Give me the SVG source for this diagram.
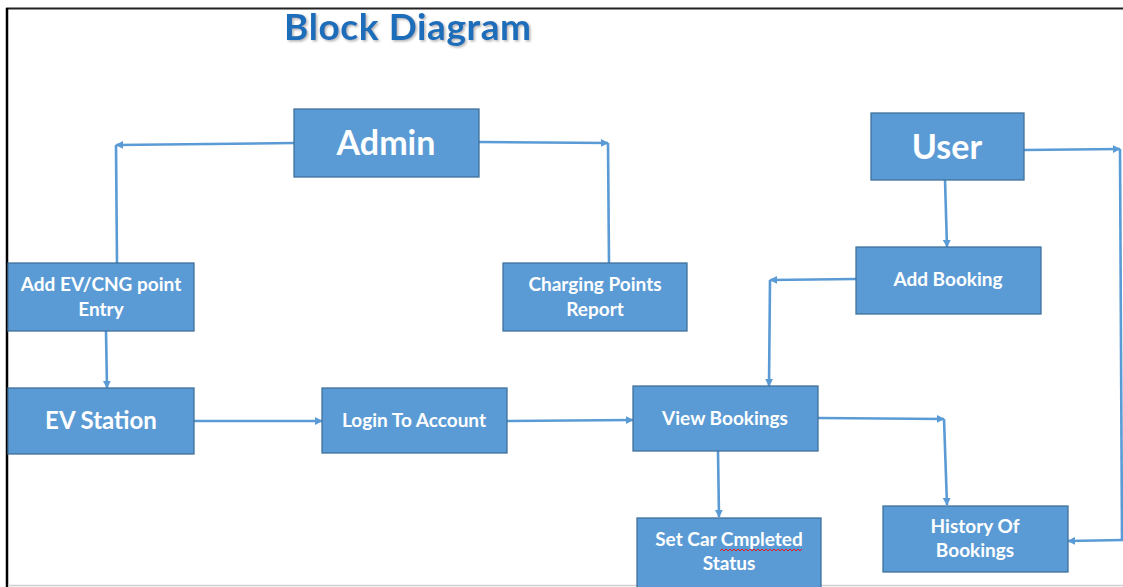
<svg xmlns="http://www.w3.org/2000/svg" width="1123" height="587" viewBox="0 0 1123 587">
  <defs>
    <style>
      .box { fill: #5B9BD5; stroke: #41719C; stroke-width: 1.3; }
      .lbl { font-family: Lato, "Open Sans", "Liberation Sans", sans-serif; font-weight: bold; fill: #FFFFFF; text-anchor: middle; }
      .s { font-size: 19px; }
      .m { font-size: 24px; }
      .l { font-size: 34px; }
      .wire { fill: none; stroke: #5B9BD5; stroke-width: 2.6; }
      .title { font-family: Lato, "Open Sans", "Liberation Sans", sans-serif; font-weight: bold; font-size: 37px; fill: #1F6EBA; }
    </style>
    <marker id="arrow" viewBox="0 0 10 10" refX="9" refY="5" markerWidth="8" markerHeight="8" markerUnits="userSpaceOnUse" orient="auto">
      <path d="M0,0 L10,5 L0,10 z" fill="#5B9BD5"/>
    </marker>
    <filter id="shadow" x="-10%" y="-30%" width="120%" height="160%">
      <feDropShadow dx="1.5" dy="1.5" stdDeviation="1" flood-color="#7F7F7F" flood-opacity="0.6"/>
    </filter>
  </defs>

  <!-- page frame -->
  <rect x="0" y="0" width="1123" height="587" fill="#FFFFFF"/>
  <line x1="6" y1="8.5" x2="1123" y2="8.5" stroke="#222222" stroke-width="2"/>
  <line x1="7" y1="8" x2="7" y2="587" stroke="#000000" stroke-width="2.5"/>
  <line x1="8" y1="585.5" x2="1123" y2="585.5" stroke="#CFCFCF" stroke-width="1.5"/>

  <text class="title" x="284" y="40" textLength="247" filter="url(#shadow)">Block Diagram</text>

  <!-- connectors -->
  <g id="connectors">
    <path class="wire" d="M294,143 L116,145" marker-end="url(#arrow)"/>
    <path class="wire" d="M116,145 L117,263"/>
    <path class="wire" d="M479,142 L608,143" marker-end="url(#arrow)"/>
    <path class="wire" d="M608,143 L609,263"/>
    <path class="wire" d="M106,331 L107,388" marker-end="url(#arrow)"/>
    <path class="wire" d="M194,421 L322,421" marker-end="url(#arrow)"/>
    <path class="wire" d="M507,421 L633,420" marker-end="url(#arrow)"/>
    <path class="wire" d="M945,180 L947,247" marker-end="url(#arrow)"/>
    <path class="wire" d="M856,279 L770,280" marker-end="url(#arrow)"/>
    <path class="wire" d="M770,280 L769,386" marker-end="url(#arrow)"/>
    <path class="wire" d="M818,418 L944,419" marker-end="url(#arrow)"/>
    <path class="wire" d="M944,419 L947,505" marker-end="url(#arrow)"/>
    <path class="wire" d="M718,451 L719,517" marker-end="url(#arrow)"/>
    <path class="wire" d="M1024,150 L1120,149" marker-end="url(#arrow)"/>
    <path class="wire" d="M1120,149 L1122,540"/>
    <path class="wire" d="M1123,540 L1068,541" marker-end="url(#arrow)"/>
  </g>

  <g id="admin">
    <rect class="box" x="294" y="109" width="185" height="68"/>
    <text class="lbl l" x="386" y="155">Admin</text>
  </g>
  <g id="user">
    <rect class="box" x="871" y="113" width="153" height="67"/>
    <text class="lbl l" x="947" y="159">User</text>
  </g>
  <g id="add-point-entry">
    <rect class="box" x="8" y="263" width="186" height="68"/>
    <text class="lbl s" x="101" y="291">Add EV/CNG point</text>
    <text class="lbl s" x="101" y="316">Entry</text>
  </g>
  <g id="charging-report">
    <rect class="box" x="503" y="263" width="184" height="68"/>
    <text class="lbl s" x="595" y="291">Charging Points</text>
    <text class="lbl s" x="595" y="316">Report</text>
  </g>
  <g id="add-booking">
    <rect class="box" x="856" y="247" width="185" height="67"/>
    <text class="lbl s" x="948" y="286">Add Booking</text>
  </g>
  <g id="ev-station">
    <rect class="box" x="8" y="388" width="186" height="66"/>
    <text class="lbl m" x="101" y="429">EV Station</text>
  </g>
  <g id="login">
    <rect class="box" x="322" y="388" width="185" height="65"/>
    <text class="lbl s" x="414" y="427">Login To Account</text>
  </g>
  <g id="view-bookings">
    <rect class="box" x="633" y="386" width="185" height="65"/>
    <text class="lbl s" x="725" y="425">View Bookings</text>
  </g>
  <g id="set-completed">
    <rect class="box" x="637" y="518" width="184" height="70"/>
    <text class="lbl s" x="729" y="546">Set Car Cmpleted</text>
    <text class="lbl s" x="729" y="570">Status</text>
    <path d="M720,551 l2,-2 l2,2 l2,-2 l2,2 l2,-2 l2,2 l2,-2 l2,2 l2,-2 l2,2 l2,-2 l2,2 l2,-2 l2,2 l2,-2 l2,2 l2,-2 l2,2 l2,-2 l2,2 l2,-2 l2,2 l2,-2 l2,2 l2,-2 l2,2 l2,-2 l2,2 l2,-2 l2,2 l2,-2 l2,2 l2,-2 l2,2 l2,-2 l2,2 l2,-2 l2,2 l2,-2 l2,2 l2,-2" fill="none" stroke="#E02020" stroke-width="1"/>
  </g>
  <g id="history">
    <rect class="box" x="883" y="506" width="185" height="66"/>
    <text class="lbl s" x="975" y="533">History Of</text>
    <text class="lbl s" x="975" y="557">Bookings</text>
  </g>
</svg>
